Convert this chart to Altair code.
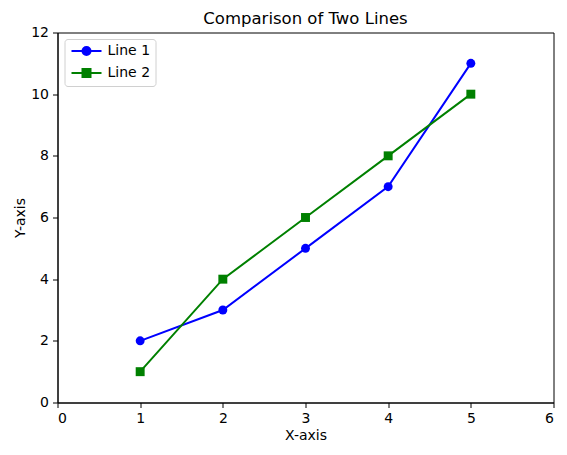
import altair as alt
import pandas as pd

x_vals = [1, 2, 3, 4, 5]
line1 = [2, 3, 5, 7, 11]
line2 = [1, 4, 6, 8, 10]
series_names = ["Line 1", "Line 2"]
colors = ["#0000ff", "#008000"]
x_ticks = [0, 1, 2, 3, 4, 5, 6]
y_ticks = [0, 2, 4, 6, 8, 10, 12]

df = pd.DataFrame({
    "x": x_vals + x_vals,
    "y": line1 + line2,
    "series": [series_names[0]] * len(x_vals) + [series_names[1]] * len(x_vals),
})

FONT = "DejaVu Sans"
LW = 2

xs = alt.Scale(domain=[0, 6], nice=False, zero=False)
ys = alt.Scale(domain=[0, 12], nice=False)


def cscale():
    return alt.Scale(domain=series_names, range=colors)


base = alt.Chart(df).encode(
    x=alt.X("x:Q", scale=xs, axis=alt.Axis(values=x_ticks, title="X-axis", format="d")),
    y=alt.Y("y:Q", scale=ys, axis=alt.Axis(values=y_ticks, title="Y-axis", format="d")),
)

lines = base.mark_line(strokeWidth=LW).encode(
    color=alt.Color("series:N", scale=cscale(), legend=None),
    detail="series:N",
)

points = base.mark_point(filled=True, size=80, opacity=1).encode(
    color=alt.Color("series:N", scale=cscale(), legend=None),
    shape=alt.Shape("series:N", scale=alt.Scale(domain=series_names, range=["circle", "square"]), legend=None),
)

# legend symbols: line segment + marker
r = 0.8
k = round(0.5523 * r, 4)
circ_path = (f"M-3,0L3,0M{r},0C{r},{k} {k},{r} 0,{r}C{-k},{r} {-r},{k} {-r},0"
             f"C{-r},{-k} {-k},{-r} 0,{-r}C{k},{-r} {r},{-k} {r},0Z")
sq_path = f"M-3,0L3,0M{-r},{-r}L{r},{-r}L{r},{r}L{-r},{r}Z"


def leg():
    return alt.Legend(
        orient="none", legendX=7, legendY=6.5,
        title=None, symbolSize=100, symbolStrokeWidth=LW,
        symbolOffset=10, labelOffset=14,
        labelFont=FONT, labelFontSize=14, labelColor="black",
        padding=5, rowPadding=6,
        strokeColor="#d0d0d0", fillColor="white",
        cornerRadius=3,
    )


legend_layer = base.mark_point(filled=True, opacity=1, strokeWidth=LW).encode(
    color=alt.Color("series:N", scale=cscale(), title=None, legend=leg()),
    stroke=alt.Stroke("series:N", scale=cscale(), title=None, legend=leg()),
    shape=alt.Shape("series:N", scale=alt.Scale(domain=series_names, range=[circ_path, sq_path]),
                    title=None, legend=leg()),
).transform_filter("false")

chart = alt.layer(lines, points, legend_layer).resolve_scale(
    color="independent", shape="independent", stroke="independent"
).properties(
    width=496, height=370,
    title=alt.TitleParams("Comparison of Two Lines", font=FONT, fontSize=16.5,
                          fontWeight="normal", color="black", offset=7, dy=9, anchor="middle"),
    autosize=alt.AutoSizeParams(type="none"),
    padding={"left": 49.5, "top": 24.5, "right": 5, "bottom": 44},
).configure_view(
    stroke="black", strokeWidth=1
).configure_axis(
    grid=False, domainColor="black", domainWidth=1, tickColor="black", tickSize=5, tickWidth=1,
    labelFont=FONT, labelFontSize=14, labelColor="black", labelPadding=4,
    titleFont=FONT, titleFontSize=14, titleFontWeight="normal", titleColor="black",
    titlePadding=3,
)

chart.save("out.html", embed_options={"renderer": "svg", "actions": False})
